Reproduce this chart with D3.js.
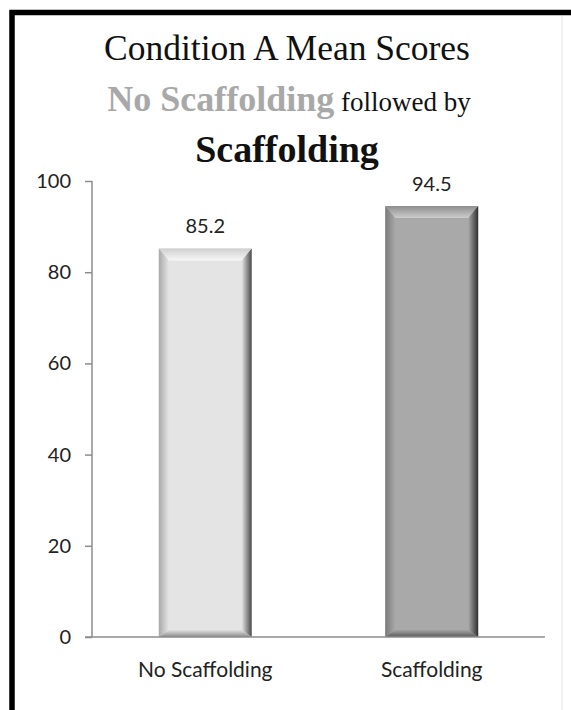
<!DOCTYPE html>
<html>
<head>
<meta charset="utf-8">
<script src="https://cdn.jsdelivr.net/npm/d3@7"></script>
<style>
  html, body { margin: 0; padding: 0; background: #ffffff; }
  svg { display: block; }
</style>
</head>
<body>
<script>
// ---- data ----
const categories = ["No Scaffolding", "Scaffolding"];
const meanScores = [85.2, 94.5];
const valueLabels = ["85.2", "94.5"];
const yTicks = [0, 20, 40, 60, 80, 100];
const titleLine1 = "Condition A Mean Scores";
const titleLine2a = "No Scaffolding";
const titleLine2b = "followed by";
const titleLine3 = "Scaffolding";

const W = 571, H = 710;
const margin = { left: 92, right: 26, top: 181, bottom: 73 };
const plotW = W - margin.left - margin.right;
const plotH = H - margin.top - margin.bottom;

const svg = d3.select("body").append("svg")
  .attr("width", W).attr("height", H);

svg.append("rect").attr("width", W).attr("height", H).attr("fill", "#fff");

// frame
svg.append("line").attr("x1", 562).attr("x2", 562).attr("y1", 16).attr("y2", H)
  .attr("stroke", "#ececec").attr("stroke-width", 1.5);
svg.append("path")
  .attr("d", `M12,${H} L12,12.5 L${W},12.5`)
  .attr("fill", "none").attr("stroke", "#000").attr("stroke-width", 5.5);

// titles
const cx = 287;
svg.append("text").attr("x", cx).attr("y", 60)
  .attr("text-anchor", "middle")
  .style("font-family", "'Liberation Serif', serif").style("font-size", "35.5px")
  .attr("fill", "#111").text(titleLine1);

const t2 = svg.append("text").attr("x", cx + 2).attr("y", 111)
  .attr("text-anchor", "middle")
  .style("font-family", "'Liberation Serif', serif");
t2.append("tspan").style("font-size", "36px").style("font-weight", "bold")
  .attr("fill", "#a8a8a8").text(titleLine2a);
t2.append("tspan").style("font-size", "27px").attr("fill", "#111").text(" " + titleLine2b);

svg.append("text").attr("x", cx).attr("y", 162)
  .attr("text-anchor", "middle")
  .style("font-family", "'Liberation Serif', serif").style("font-size", "38px")
  .style("font-weight", "bold").attr("fill", "#111").text(titleLine3);

// scales
const x = d3.scaleBand().domain(categories).range([0, plotW])
  .paddingInner(0.59).paddingOuter(0.295);
const y = d3.scaleLinear().domain([0, 100]).range([plotH, 0]);

const g = svg.append("g").attr("transform", `translate(${margin.left},${margin.top})`);

// gradients
const defs = svg.append("defs");
const styles = [
  { body: "#e4e4e4", top: ["#cfcfcf", "#f7f7f7"], left: ["#a9a9a9", "#e4e4e4"], right: ["#e4e4e4", "#4a4a4a"], bottom: ["#e0e0e0", "#8a8a8a"] },
  { body: "#a9a9a9", top: ["#8e8e8e", "#cdcdcd"], left: ["#7a7a7a", "#a9a9a9"], right: ["#a9a9a9", "#2e2e2e"], bottom: ["#a4a4a4", "#5a5a5a"] }
];
function grad(id, c, x1, y1, x2, y2) {
  const lg = defs.append("linearGradient").attr("id", id)
    .attr("x1", x1).attr("y1", y1).attr("x2", x2).attr("y2", y2);
  lg.append("stop").attr("offset", "0%").attr("stop-color", c[0]);
  lg.append("stop").attr("offset", "100%").attr("stop-color", c[1]);
}
styles.forEach((s, i) => {
  grad(`top${i}`, s.top, 0, 0, 0, 1);
  grad(`left${i}`, s.left, 0, 0, 1, 0);
  grad(`right${i}`, s.right, 0, 0, 1, 0);
  grad(`bot${i}`, s.bottom, 0, 0, 0, 1);
});

// bars
const data = categories.map((c, i) => ({ cat: c, val: meanScores[i], lab: valueLabels[i], i }));
const bev = 10;
const bars = g.selectAll(".bar").data(data).enter().append("g").attr("class", "bar");
bars.each(function (d) {
  const sel = d3.select(this);
  const x0 = x(d.cat), x1 = x0 + x.bandwidth();
  const y0 = y(d.val), y1 = y(0);
  const b = bev;
  sel.append("rect").attr("x", x0).attr("y", y0).attr("width", x1 - x0).attr("height", y1 - y0)
    .attr("fill", styles[d.i].body);
  sel.append("polygon")
    .attr("points", [[x0, y0], [x0 + b, y0 + b], [x0 + b, y1 - b * 0.7], [x0, y1]].join(" "))
    .attr("fill", `url(#left${d.i})`);
  sel.append("polygon")
    .attr("points", [[x1, y0], [x1 - b, y0 + b], [x1 - b, y1 - b * 0.7], [x1, y1]].join(" "))
    .attr("fill", `url(#right${d.i})`);
  sel.append("polygon")
    .attr("points", [[x0, y1], [x0 + b, y1 - b * 0.7], [x1 - b, y1 - b * 0.7], [x1, y1]].join(" "))
    .attr("fill", `url(#bot${d.i})`);
  sel.append("polygon")
    .attr("points", [[x0, y0], [x1, y0], [x1 - b, y0 + b * 1.2], [x0 + b, y0 + b * 1.2]].join(" "))
    .attr("fill", `url(#top${d.i})`);
});

// value labels
g.selectAll(".vlab").data(data).enter().append("text")
  .attr("x", d => x(d.cat) + x.bandwidth() / 2)
  .attr("y", d => y(d.val) - 15)
  .attr("text-anchor", "middle")
  .style("font-family", "Lato, sans-serif").style("font-size", "20px")
  .attr("fill", "#222").text(d => d.lab);

// y axis
const yAxis = d3.axisLeft(y).tickValues(yTicks).tickSize(7).tickPadding(14);
const ya = g.append("g").call(yAxis);
ya.select(".domain").attr("stroke", "#8c8c8c").attr("stroke-width", 1.5)
  .attr("d", `M0,${y(100)}V${y(0)}`);
ya.selectAll(".tick line").attr("stroke", "#8c8c8c").attr("stroke-width", 1.5);
ya.selectAll(".tick text").style("font-family", "Lato, sans-serif").style("font-size", "20px")
  .attr("fill", "#222");

// x axis
const xAxis = d3.axisBottom(x).tickSize(0).tickPadding(25);
const xa = g.append("g").attr("transform", `translate(0,${plotH})`).call(xAxis);
xa.select(".domain").attr("stroke", "#8c8c8c").attr("stroke-width", 1.5)
  .attr("d", `M-7,0H${plotW}`);
xa.selectAll(".tick text").style("font-family", "Lato, sans-serif").style("font-size", "21px")
  .attr("fill", "#222");
</script>
</body>
</html>
